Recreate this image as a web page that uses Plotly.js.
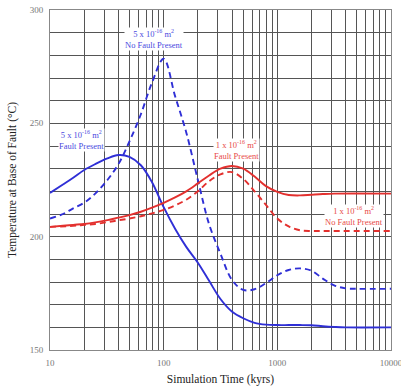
<!DOCTYPE html>
<html>
<head>
<meta charset="utf-8">
<script src="https://cdn.plot.ly/plotly-3.0.1.min.js"></script>
<style>html,body{margin:0;padding:0;background:#fff;}#chart{width:401px;height:388px;}</style>
</head>
<body>
<div id="chart"></div>
<script>
// Time (kyrs) and temperature (°C) for each series
const blueSolidT = [10, 13, 16, 20, 25, 32, 40, 50, 63, 79, 100, 126, 158, 200, 251, 316, 398, 501, 631, 794, 1000, 1259, 1585, 1995, 2512, 3162, 3981, 10000];
const blueSolidV = [219.3, 223, 226, 229.4, 232, 234.5, 236, 235.2, 231.5, 224, 213, 203.5, 195.5, 188.5, 180.5, 172.5, 167, 164, 162, 161.2, 161, 161, 161, 160.9, 160.5, 160.2, 160, 160];

const blueDashT = [10, 13, 16, 20, 25, 32, 40, 50, 63, 79, 100, 126, 158, 200, 251, 316, 398, 501, 631, 794, 1000, 1259, 1585, 1995, 2512, 3162, 3981, 5012, 10000];
const blueDashV = [208, 210, 212.5, 215, 219, 225, 232, 242, 254, 268, 278.5, 262, 246, 225, 205.5, 192.5, 181, 176.5, 176.8, 179.5, 183, 185.3, 186, 185, 181.5, 178.5, 177.2, 177, 177];

const redSolidT = [10, 13, 16, 20, 25, 32, 40, 50, 63, 79, 100, 126, 158, 200, 251, 316, 398, 501, 631, 794, 1000, 1259, 1585, 1995, 2512, 3162, 10000];
const redSolidV = [204.3, 204.8, 205.2, 205.6, 206.3, 207.3, 208.4, 209.5, 211, 212.8, 214.9, 217.3, 220, 223.5, 227, 230, 231.2, 230, 226.5, 222.3, 219.8, 218.4, 218.2, 218.5, 218.8, 219, 219];

const redDashT = [10, 16, 20, 25, 32, 40, 50, 63, 79, 100, 126, 158, 200, 251, 316, 398, 501, 631, 794, 1000, 1259, 1585, 1995, 2512, 10000];
const redDashV = [204.3, 204.8, 205.2, 205.6, 206.4, 207.2, 208, 209, 210.3, 211.8, 213.8, 216.3, 220, 224.5, 227.5, 228.5, 225.5, 220, 214, 208, 204.5, 202.8, 202.5, 202.5, 202.5];

const xTickVals = [10,20,30,40,50,60,70,80,90,100,200,300,400,500,600,700,800,900,1000,2000,3000,4000,5000,6000,7000,8000,9000,10000];
const xTickText = xTickVals.map(v => [10,100,1000,10000].includes(v) ? String(v) : '');
const yTickVals = [150,160,170,180,190,200,210,220,230,240,250,260,270,280,290,300];
const yTickText = yTickVals.map(v => v % 50 === 0 ? String(v) : '');

const BLUE = '#2f2fd6';
const RED = '#e3302e';
const serif = 'Liberation Serif, Times New Roman, serif';

const lineStyle = (c, dash) => ({color: c, width: 1.9, dash: dash, shape: 'spline', smoothing: 1});
const traces = [
  {x: blueSolidT, y: blueSolidV, mode: 'lines', line: lineStyle(BLUE, 'solid')},
  {x: blueDashT, y: blueDashV, mode: 'lines', line: lineStyle(BLUE, '6px,4px')},
  {x: redSolidT, y: redSolidV, mode: 'lines', line: lineStyle(RED, 'solid')},
  {x: redDashT, y: redDashV, mode: 'lines', line: lineStyle(RED, '6px,4px')}
];

const annFont = (c) => ({family: serif, size: 8.5, color: c});
const annotations = [
  {x: 1.915, y: 287.2, xref: 'x', yref: 'y', text: '5 x 10<sup>-16</sup> m<sup>2</sup><br>No Fault Present', showarrow: false, font: annFont('#4a4ae0'), bgcolor: '#ffffff', borderpad: 0},
  {x: 1.281, y: 242.5, xref: 'x', yref: 'y', text: '5 x 10<sup>-16</sup> m<sup>2</sup><br>Fault Present', showarrow: false, font: annFont('#4a4ae0'), bgcolor: '#ffffff', borderpad: 0},
  {x: 2.645, y: 238.2, xref: 'x', yref: 'y', text: '1 x 10<sup>-16</sup> m<sup>2</sup><br>Fault Present', showarrow: false, font: annFont('#e84a48'), bgcolor: '#ffffff', borderpad: 0},
  {x: 3.674, y: 209.1, xref: 'x', yref: 'y', text: '1 x 10<sup>-16</sup> m<sup>2</sup><br>No Fault Present', showarrow: false, font: annFont('#e84a48'), bgcolor: '#ffffff', borderpad: 0}
];

const layout = {
  width: 401, height: 388,
  margin: {l: 50, r: 10, t: 10, b: 38},
  paper_bgcolor: '#ffffff', plot_bgcolor: '#ffffff',
  showlegend: false,
  font: {family: serif},
  xaxis: {
    type: 'log', range: [1, 4],
    tickvals: xTickVals, ticktext: xTickText,
    showgrid: true, gridcolor: '#555555', gridwidth: 1,
    showline: true, linecolor: '#888888', linewidth: 1, mirror: true,
    zeroline: false, ticks: '', ticklabelstandoff: 4, ticklabeloverflow: 'allow',
    tickfont: {family: serif, size: 9, color: '#777777'},
    title: {text: 'Simulation Time (kyrs)', font: {family: serif, size: 11.5, color: '#222222'}, standoff: 8}
  },
  yaxis: {
    range: [150, 300],
    tickvals: yTickVals, ticktext: yTickText,
    showgrid: true, gridcolor: '#555555', gridwidth: 1,
    showline: true, linecolor: '#888888', linewidth: 1, mirror: true,
    zeroline: false, ticks: '', ticklabelstandoff: 4,
    tickfont: {family: serif, size: 9, color: '#777777'},
    title: {text: 'Temperature at Base of Fault (°C)', font: {family: serif, size: 11.5, color: '#222222'}, standoff: 10}
  },
  annotations: annotations
};

Plotly.newPlot('chart', traces, layout, {displayModeBar: false, staticPlot: true});
</script>
</body>
</html>
